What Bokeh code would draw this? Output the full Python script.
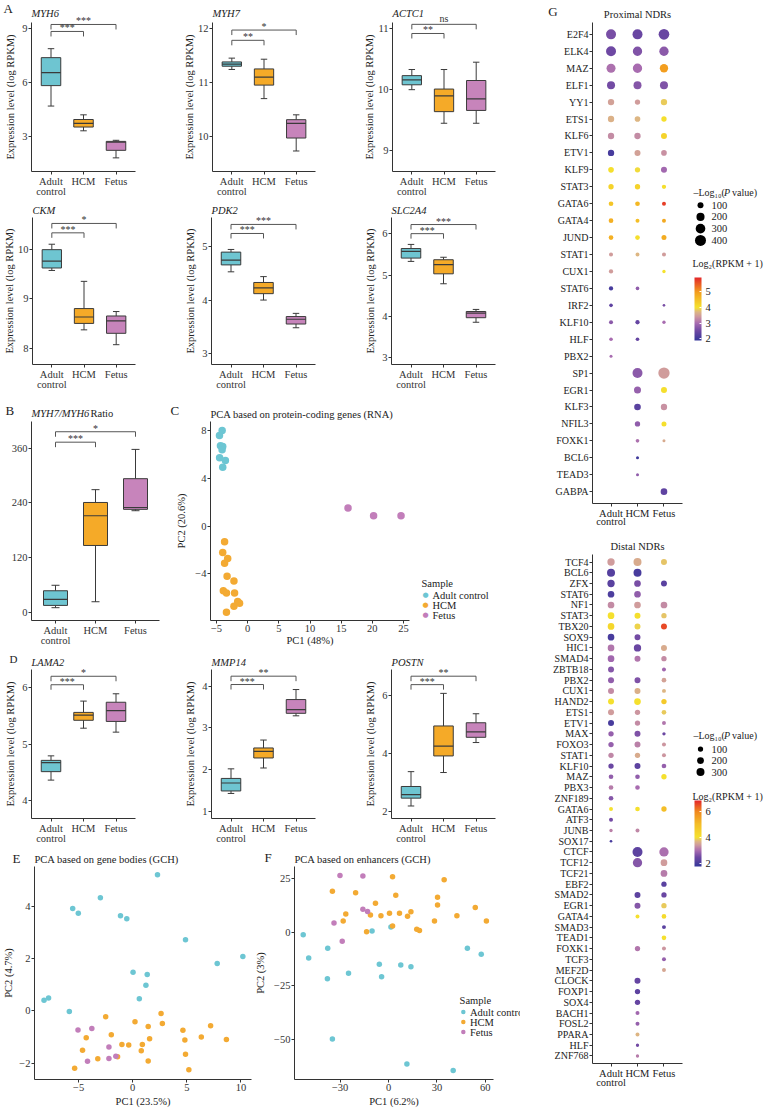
import numpy as np
from bokeh.plotting import figure
from bokeh.models import (Range1d, FixedTicker, ColumnDataSource, FactorRange,
                          LinearColorMapper, ColorBar)
from bokeh.layouts import row, column
from bokeh.embed import file_html
from bokeh.resources import INLINE
from bokeh.core.properties import value

FONT = "Liberation Serif"
GROUPS = ["Adult", "HCM", "Fetus"]
GROUP_SUB = "control"
GROUP_COLORS = ["#6EC5D1", "#F5AA28", "#C784BB"]
PT_COLORS = ["#6DC6D3", "#F3AA33", "#C27EBA"]
LEGEND_NAMES = ["Adult control", "HCM", "Fetus"]

# ---------- box plot data: per group [whisker_low, q1, median, q3, whisker_high]
MYH6 = [[4.69, 5.83, 6.56, 7.39, 7.89], [3.31, 3.52, 3.72, 3.94, 4.20], [1.80, 2.22, 2.67, 2.72, 2.78]]
MYH7 = [[11.25, 11.31, 11.35, 11.39, 11.46], [10.71, 10.96, 11.11, 11.26, 11.44], [9.74, 9.98, 10.25, 10.32, 10.41]]
ACTC1 = [[10.00, 10.08, 10.16, 10.23, 10.33], [9.45, 9.64, 9.90, 10.01, 10.33], [9.45, 9.66, 9.85, 10.15, 10.45]]
CKM = [[9.57, 9.62, 9.76, 9.99, 10.10], [8.37, 8.50, 8.63, 8.80, 9.35], [8.07, 8.30, 8.55, 8.65, 8.74]]
PDK2 = [[4.53, 4.66, 4.75, 4.90, 4.95], [4.00, 4.12, 4.23, 4.33, 4.44], [3.48, 3.55, 3.64, 3.69, 3.75]]
SLC2A4 = [[5.33, 5.41, 5.57, 5.64, 5.74], [4.79, 5.03, 5.25, 5.37, 5.43], [3.86, 3.97, 4.08, 4.12, 4.17]]
RATIO = [[11, 16, 29, 48, 60], [24, 147, 212, 241, 269], [223, 226, 230, 293, 357]]
LAMA2 = [[4.36, 4.51, 4.67, 4.71, 4.79], [5.28, 5.42, 5.51, 5.56, 5.76], [5.21, 5.40, 5.59, 5.74, 5.89]]
MMP14 = [[1.43, 1.49, 1.68, 1.79, 2.02], [2.04, 2.28, 2.44, 2.52, 2.71], [3.29, 3.35, 3.44, 3.68, 3.92]]
POSTN = [[2.20, 2.47, 2.59, 2.87, 3.38], [3.35, 3.92, 4.26, 4.95, 6.07], [4.38, 4.56, 4.75, 5.06, 5.37]]

# significance brackets: (group_a, group_b, level, label)
SIG_MYH6 = [(1, 2, 8.85, "***"), (1, 3, 9.24, "***")]
SIG_MYH7 = [(1, 2, 11.79, "**"), (1, 3, 11.98, "*")]
SIG_ACTC1 = [(1, 2, 10.92, "**"), (1, 3, 11.07, "ns")]
SIG_CKM = [(1, 2, 10.33, "***"), (1, 3, 10.52, "*")]
SIG_PDK2 = [(1, 2, 5.25, "***"), (1, 3, 5.42, "***")]
SIG_SLC2A4 = [(1, 2, 6.00, "***"), (1, 3, 6.22, "***")]
SIG_RATIO = [(1, 2, 372.8, "***"), (1, 3, 395.6, "*")]
SIG_LAMA2 = [(1, 2, 6.05, "***"), (1, 3, 6.20, "*")]
SIG_MMP14 = [(1, 2, 4.04, "***"), (1, 3, 4.24, "**")]
SIG_POSTN = [(1, 2, 6.37, "***"), (1, 3, 6.66, "**")]

# ---------- PCA C (RNA)
C_ADULT_X = [-4.09, -4.52, -4.36, -4.0, -4.1, -4.5, -3.57, -4.0]
C_ADULT_Y = [8.0, 7.58, 6.73, 6.67, 6.4, 5.73, 5.5, 4.93]
C_HCM_X = [-3.7, -4.0, -3.2, -3.7, -3.3, -2.2, -3.9, -3.4, -2.1, -1.6, -2.2, -3.4, -1.3]
C_HCM_Y = [-1.3, -2.2, -2.7, -3.1, -4.2, -4.6, -5.4, -5.6, -5.6, -6.3, -6.7, -7.2, -6.45]
C_FET_X = [16.1, 20.2, 24.6]
C_FET_Y = [1.52, 0.87, 0.87]

# ---------- PCA E (gene bodies, GCH)
E_ADULT_X = [2.29, -2.99, -5.55, -5.03, -1.13, -0.55, 4.88, 10.18, 7.81, 0.03, 1.34, 1.22, 0.61, -7.78, -8.2, -5.86]
E_ADULT_Y = [5.2, 4.32, 3.91, 3.73, 3.64, 3.52, 2.72, 2.08, 1.81, 1.47, 1.39, 0.98, 0.46, 0.49, 0.4, -0.03]
E_HCM_X = [2.62, -2.5, 0.21, 2.74, 1.43, 7.2, 4.64, -1.98, -4.3, 1.56, 4.82, 6.34, 8.66, -1.0, -0.37, 0.89,
           -4.64, 0.79, -1.4, 4.88, -3.23, 1.43, -5.37, 5.19]
E_HCM_Y = [-0.1, -0.23, -0.42, -0.49, -0.6, -0.57, -0.75, -0.92, -1.03, -1.07, -1.12, -1.0, -1.1, -1.29, -1.31, -1.29,
           -1.51, -1.53, -1.76, -1.66, -1.84, -1.92, -2.2, -2.26]
E_FET_X = [-5.06, -3.78, -2.2, -1.56, -2.2, -4.18]
E_FET_Y = [-0.74, -0.68, -1.39, -1.74, -1.83, -1.93]

# ---------- PCA F (enhancers, GCH)
F_ADULT_X = [-52.9, -49.5, -37.7, -37.9, -24.8, -34.8, -10.2, 1.5, -5.7, -4.3, 7.6, 13.9, 11.4, 40.1, 48.9, 57.5]
F_ADULT_Y = [-1.1, -12.0, -7.5, -21.7, -19.2, -50.0, 0.6, 2.5, -15.0, -20.8, -15.3, -16.1, -61.7, -64.7, -7.5, -10.3]
F_HCM_X = [-34.8, 2.5, 34.5, -20.4, 4.5, 30.4, 30.4, -8.1, 53.8, -26.5, 0.6, 6.8, 13.9, -11.2, -4.7, 11.8, 42.4,
           -28.1, 28.5, 60.7, 2.5, -13.6, 17.5, 19.2]
F_HCM_Y = [19.2, 26.0, 24.6, 18.5, 17.3, 16.4, 12.8, 13.6, 11.6, 8.6, 8.9, 8.9, 9.6, 8.1, 7.8, 7.5, 7.8,
           5.3, 5.3, 5.3, 3.0, 0.2, 1.4, 0.9]
F_FET_X = [-30.1, -15.9, -15.9, -13.0, -33.8, -28.7]
F_FET_Y = [26.6, 26.4, 10.8, 9.7, 4.4, -4.2]

# ---------- G proximal NDRs: -log10(P) and log2(RPKM+1) per group (None = absent)
N = None
PROX_TF = ["E2F4", "ELK4", "MAZ", "ELF1", "YY1", "ETS1", "KLF6", "ETV1", "KLF9", "STAT3", "GATA6", "GATA4",
           "JUND", "STAT1", "CUX1", "STAT6", "IRF2", "KLF10", "HLF", "PBX2", "SP1", "EGR1", "KLF3", "NFIL3",
           "FOXK1", "BCL6", "TEAD3", "GABPA"]
PROX_P_ADULT = [324, 324, 256, 196, 114, 114, 114, 114, 87, 75, 54, 54, 54, 36, 44, 44, 28, 36, 28, 16,
                N, N, N, N, N, N, N, N]
PROX_P_HCM = [324, 278, 278, 196, 75, 87, 114, 100, 75, 75, 54, 36, 54, 36, N, 28, N, 44, 28, N,
              324, 144, 128, 75, 28, 16, 16, N]
PROX_P_FETUS = [374, 278, 215, 196, 114, 75, 100, 87, 100, 44, 36, 36, 64, 36, 22, N, 11, 22, N, N,
                427, 100, 114, 64, 16, N, N, 128]
PROX_E_ADULT = [2.6, 2.5, 3.05, 2.55, 3.5, 3.65, 3.3, 2.1, 4.05, 4.2, 4.4, 4.7, 4.7, 3.45, 3.45, 2.1, 2.35, 2.75, 3.0, 3.0,
                N, N, N, N, N, N, N, N]
PROX_E_HCM = [2.45, 2.65, 3.0, 2.7, 3.45, 3.7, 3.3, 3.5, 3.95, 4.2, 4.6, 4.5, 4.05, 3.7, N, 2.8, N, 2.4, 2.4, N,
              2.75, 2.85, 2.3, 2.8, 3.05, 2.0, 2.8, N]
PROX_E_FETUS = [2.45, 2.75, 4.95, 2.65, 3.85, 4.05, 4.2, 3.35, 2.95, 4.05, 5.7, 4.8, 4.75, 3.45, 4.0, N, 2.6, 3.0, N, N,
                3.45, 4.05, 3.35, 4.05, 3.6, N, N, 2.35]

# ---------- G distal NDRs
DIST_TF = ["TCF4", "BCL6", "ZFX", "STAT6", "NF1", "STAT3", "TBX20", "SOX9", "HIC1", "SMAD4", "ZBTB18", "PBX2",
           "CUX1", "HAND2", "ETS1", "ETV1", "MAX", "FOXO3", "STAT1", "KLF10", "MAZ", "PBX3", "ZNF189", "GATA6",
           "ATF3", "JUNB", "SOX17", "CTCF", "TCF12", "TCF21", "EBF2", "SMAD2", "EGR1", "GATA4", "SMAD3", "TEAD1",
           "FOXK1", "TCF3", "MEF2D", "CLOCK", "FOXP1", "SOX4", "BACH1", "FOSL2", "PPARA", "HLF", "ZNF768"]
DIST_P_ADULT = [241, 300, 241, 189, 189, 189, 189, 189, 189, 189, 142, 142, 142, 142, 142, 142, 102, 102, 102, 102,
                69, 69, 69, 42, 42, 22, 8] + [N] * 20
DIST_P_HCM = [300, 300, 189, 189, 189, 142, 142, 142, 241, 142, N, 142, 142, 189, 102, 102, 142, 142, 102, 142,
              69, 69, N, 69, N, 42, N, 518, 439, N, N, 142, 142, 42, N, N, 102, N, N, 142, 102, 102, 42, 42, 42, 22, 22]
DIST_P_FETUS = [142, N, 142, N, 189, 102, 142, N, 142, 102, 42, 69, 42, 102, 69, 42, 22, 42, 42, 69,
                102, N, N, 102, N, N, N, 439, 189, 189, 102, 102, 102, 69, 42, 69, 42, 42, 42] + [N] * 8
DIST_E_ADULT = [3.45, 2.2, 2.25, 2.1, 3.3, 4.05, 4.3, 2.05, 3.1, 2.95, 2.7, 2.8, 3.3, 4.05, 3.45, 2.05, 2.85, 2.85, 3.25, 2.45,
                2.8, 3.15, 2.7, 4.0, 2.55, 3.2, 2.05] + [N] * 20
DIST_E_HCM = [3.6, 2.05, 2.6, 2.8, 3.45, 4.1, 3.9, 2.55, 2.45, 3.1, N, 2.65, 3.65, 4.05, 3.4, 3.3, 2.65, 3.2, 3.6, 2.3,
              2.8, 3.0, N, 4.05, N, 3.25, N, 2.3, 2.7, N, N, 2.3, 2.7, 4.05, N, N, 3.1, N, N, 2.4, 2.3, 2.4, 2.95, 2.85, 3.7, 2.55, 3.15]
DIST_E_FETUS = [3.8, N, 2.25, N, 3.3, 3.8, 6.5, N, 3.6, 3.3, 2.95, 3.5, 3.7, 4.7, 3.85, 3.1, 2.45, 3.4, 3.4, 2.85,
                4.05, N, N, 5.0, N, N, N, 3.05, 3.45, 3.15, 2.25, 2.45, 3.85, 4.2, 2.25, 4.05, 3.4, 2.85, 3.55] + [N] * 8

PROX_SIZE_BREAKS = [100, 200, 300, 400]
DIST_SIZE_BREAKS = [100, 200, 300]

# ---------------------------------------------------------------- helpers
AX = "#333333"


def style(p, ylabel_standoff=3, xlabel_standoff=0):
    p.outline_line_color = None
    p.xgrid.visible = False
    p.ygrid.visible = False
    p.background_fill_color = None
    p.border_fill_color = None
    for ax in list(p.xaxis) + list(p.yaxis):
        ax.axis_line_color = AX
        ax.axis_line_width = 1
        ax.major_tick_line_color = AX
        ax.major_tick_out = 3
        ax.major_tick_in = 0
        ax.minor_tick_line_color = None
        ax.major_label_text_font = FONT
        ax.major_label_text_font_size = "10.5px"
        ax.major_label_text_color = AX
        ax.axis_label_text_font = FONT
        ax.axis_label_text_font_size = "10.5px"
        ax.axis_label_text_font_style = "normal"
        ax.axis_label_text_color = "#222222"
        ax.major_label_standoff = 1
    for ax in p.yaxis:
        ax.axis_label_standoff = ylabel_standoff
    for ax in p.xaxis:
        ax.axis_label_standoff = xlabel_standoff


def set_title(p, text, style_="italic", align="left", standoff=4):
    p.title.text = text
    p.title.text_font = FONT
    p.title.text_font_size = "10.5px"
    p.title.text_font_style = style_
    p.title.text_color = "#222222"
    p.title.align = align
    p.title.standoff = standoff
    p.title.offset = 0


def otext(p, x, y, text, xo=0, yo=0, size="10.5px", style_="normal", align="left", baseline="middle",
          color="#222222", font=FONT):
    """text glyph drawn on the overlay level (not clipped to the frame)"""
    p.text(x=[x], y=[y], text=[text], x_offset=xo, y_offset=yo, text_font=value(font), text_font_size=size,
           text_font_style=style_, text_align=align, text_baseline=baseline, text_color=color, level="overlay")


def box_fig(stats, sig, yr, ticks, title, width, height, top, bottom, title_standoff, letter=None,
            letter_pos=(-28, -14), letter_size="13px", ylabel="Expression level (log RPKM)", left=31,
            frame_w=104, title_parts=None):
    right = width - left - frame_w
    p = figure(width=width, height=height, x_range=Range1d(0.4, 3.6), y_range=Range1d(*yr),
               output_backend="svg", toolbar_location=None, min_border_left=left, min_border_right=right,
               min_border_top=top, min_border_bottom=bottom)
    two_digit = max(len(str(t)) for t in ticks) > 1
    style(p, ylabel_standoff=(0 if two_digit else 3))
    p.xaxis.ticker = FixedTicker(ticks=[1, 2, 3])
    p.xaxis.major_label_overrides = {1: GROUPS[0], 2: GROUPS[1], 3: GROUPS[2]}
    p.yaxis.ticker = FixedTicker(ticks=ticks)
    p.yaxis.axis_label = ylabel
    xs = [1, 2, 3]
    lo = [s[0] for s in stats]
    q1 = [s[1] for s in stats]
    md = [s[2] for s in stats]
    q3 = [s[3] for s in stats]
    hi = [s[4] for s in stats]
    frame_h = height - top - bottom
    lc = "#3a3a3a"
    p.segment(x0=xs, x1=xs, y0=q3, y1=hi, line_color=lc, line_width=1)
    p.segment(x0=xs, x1=xs, y0=lo, y1=q1, line_color=lc, line_width=1)
    cap = 0.1
    p.segment(x0=[x - cap for x in xs], x1=[x + cap for x in xs], y0=hi, y1=hi, line_color=lc, line_width=1)
    p.segment(x0=[x - cap for x in xs], x1=[x + cap for x in xs], y0=lo, y1=lo, line_color=lc, line_width=1)
    p.vbar(x=xs, width=0.6, bottom=q1, top=q3, fill_color=GROUP_COLORS, line_color=lc, line_width=1)
    p.segment(x0=[x - 0.3 for x in xs], x1=[x + 0.3 for x in xs], y0=md, y1=md, line_color=lc, line_width=1.2)
    drop = 5.0 * (yr[1] - yr[0]) / frame_h
    for a, b, lev, lab in sig:
        p.segment(x0=[a, a, b], x1=[b, a, b], y0=[lev, lev, lev], y1=[lev, lev - drop, lev - drop],
                  line_color="#555555", line_width=1)
        otext(p, (a + b) / 2, lev, lab, yo=(0 if lab == "ns" else 2), size="10px", align="center",
              baseline="bottom", color="#333333")
    # second line of the first category label
    otext(p, 1, yr[0], GROUP_SUB, yo=20, align="center", color=AX)
    if title_parts is None:
        set_title(p, title, standoff=title_standoff)
    else:
        for t, st, xo in title_parts:
            otext(p, 0.4, yr[1], t, xo=xo, yo=-8, style_=st)
    if letter:
        otext(p, 0.4, yr[1], letter, xo=letter_pos[0], yo=letter_pos[1], size=letter_size)
    return p


def pca_fig(groups_xy, xr, yr, xticks, yticks, width, height, top, bottom, left, frame_w, title, title_standoff,
            letter, letter_pos, xlabel, ylabel, ylab_standoff, xlab_standoff, size, legend_px, dot_text):
    right = width - left - frame_w
    p = figure(width=width, height=height, x_range=Range1d(*xr), y_range=Range1d(*yr),
               output_backend="svg", toolbar_location=None, min_border_left=left, min_border_right=right,
               min_border_top=top, min_border_bottom=bottom)
    style(p, ylabel_standoff=ylab_standoff, xlabel_standoff=xlab_standoff)
    set_title(p, title, style_="normal", standoff=title_standoff)
    p.xaxis.ticker = FixedTicker(ticks=xticks)
    p.yaxis.ticker = FixedTicker(ticks=yticks)
    p.xaxis.axis_label = xlabel
    p.yaxis.axis_label = ylabel
    for (gx, gy), col in zip(groups_xy, PT_COLORS):
        p.scatter(x=gx, y=gy, size=size, fill_color=col, line_color=None)
    frame_h = height - top - bottom
    sx = (xr[1] - xr[0]) / frame_w
    sy = (yr[1] - yr[0]) / frame_h
    if legend_px is not None:
        lx, ly = legend_px  # legend title position, px from frame bottom-left
        otext(p, xr[0] + lx * sx, yr[0] + ly * sy, "Sample")
        for i, (col, name) in enumerate(zip(PT_COLORS, LEGEND_NAMES)):
            yy = yr[0] + (ly - 11.5 - 10 * i) * sy
            if dot_text:
                otext(p, xr[0] + (lx + 4) * sx, yy, "\u25cf", size="7px", align="center", color=col,
                      font="DejaVu Sans")
            else:
                p.scatter(x=[xr[0] + (lx + 4) * sx], y=[yy], size=4.5, fill_color=col, line_color=None)
            otext(p, xr[0] + (lx + 11) * sx, yy, name)
    otext(p, xr[0], yr[1], letter, xo=letter_pos[0], yo=letter_pos[1], size="13px")
    return p


ANCHORS_PROX = [(1.9, "#35369A"), (2.5, "#6E48A3"), (3.0, "#A86CB0"), (3.4, "#CD97A0"), (3.7, "#DDB584"),
                (4.0, "#F5E22E"), (5.0, "#F39B1E"), (5.9, "#E3262A")]
ANCHORS_DIST = [(1.8, "#35369A"), (2.5, "#6E48A3"), (3.0, "#A86CB0"), (3.4, "#CD97A0"), (3.7, "#DDB584"),
                (4.0, "#F5E22E"), (5.0, "#F4BE28"), (6.0, "#F0861E"), (6.8, "#E3262A")]


def palette(anchors, n=256):
    vs = [a[0] for a in anchors]
    rgb = [tuple(int(a[1][i:i + 2], 16) for i in (1, 3, 5)) for a in anchors]
    out = []
    for v in np.linspace(vs[0], vs[-1], n):
        c = [int(round(np.interp(v, vs, [r[k] for r in rgb]))) for k in range(3)]
        out.append("#%02x%02x%02x" % tuple(c))
    return out


def dot_fig(tfs, ps, es, mapper, size_fn, width, height, top, bottom, left, title, title_standoff, letter):
    yr = FactorRange(factors=list(reversed(tfs)), range_padding=0.2, range_padding_units="absolute")
    xr = FactorRange(factors=GROUPS, range_padding=0.2, range_padding_units="absolute")
    frame_w = 90
    p = figure(width=width, height=height, x_range=xr, y_range=yr, output_backend="svg",
               toolbar_location=None, min_border_left=left, min_border_right=width - left - frame_w,
               min_border_top=top, min_border_bottom=bottom)
    style(p)
    set_title(p, title, style_="normal", align="center", standoff=title_standoff)
    p.yaxis.major_label_text_font_size = "10px"
    p.yaxis.major_label_text_color = "#222222"
    p.xaxis.major_label_text_color = "#222222"
    gx, gy, sz, ev = [], [], [], []
    for g, pl, el in zip(GROUPS, ps, es):
        for tf, pv, e in zip(tfs, pl, el):
            if pv is None:
                continue
            gx.append(g)
            gy.append(tf)
            sz.append(size_fn(pv))
            ev.append(e)
    src = ColumnDataSource(dict(x=gx, y=gy, s=sz, e=ev))
    p.scatter(x="x", y="y", size="s", source=src, fill_color={"field": "e", "transform": mapper},
              line_color=None)
    p.text(x=[GROUPS[0]], y=[-0.1], text=[GROUP_SUB], y_offset=20, text_font=value(FONT),
           text_font_size="10.5px", text_align="center", text_baseline="middle", text_color="#222222",
           level="overlay")
    if letter:
        otext(p, -0.1, len(tfs) + 0.1, letter, xo=-47, yo=-13, size="13px")
    return p


def legend_fig(width, height, title_y, breaks, ys, size_fn, cb_title_y, cb_y, cb_h, mapper, cb_ticks):
    lf = figure(width=width, height=height, x_range=Range1d(0, width), y_range=Range1d(0, height),
                output_backend="svg", toolbar_location=None, min_border=0,
                x_axis_location=None, y_axis_location=None)
    lf.outline_line_color = None
    lf.xgrid.visible = False
    lf.ygrid.visible = False
    lf.background_fill_color = None
    lf.border_fill_color = None
    otext(lf, 7, title_y, "\u2013Log\u2081\u2080(", size="10px")
    otext(lf, 37.5, title_y, "P", style_="italic", size="10px")
    otext(lf, 45.5, title_y, "value)", size="10px")
    lf.scatter(x=[14] * len(breaks), y=ys, size=[size_fn(b) for b in breaks], fill_color="black", line_color=None)
    lf.text(x=[25] * len(breaks), y=ys, text=[str(b) for b in breaks], text_font=value(FONT),
            text_font_size="10.5px", text_baseline="middle", text_color="#222222")
    otext(lf, 6, cb_title_y, "Log\u2082(RPKM + 1)", size="10px")
    cb = ColorBar(color_mapper=mapper, location=(8, cb_y), width=7, height=cb_h,
                  ticker=FixedTicker(ticks=cb_ticks), padding=0, margin=0, label_standoff=4,
                  major_label_text_font=FONT, major_label_text_font_size="10.5px",
                  major_label_text_color="#222222", major_tick_line_color="white", major_tick_in=2,
                  bar_line_color=None, border_line_color=None, background_fill_color=None)
    lf.add_layout(cb, "center")
    return lf


# ---------------------------------------------------------------- row A1 (h 197)
p_myh6 = box_fig(MYH6, SIG_MYH6, (1.04, 9.35), [3, 6, 9], "MYH6", 180, 197, 22, 26, 6.5, letter="A")
p_myh7 = box_fig(MYH7, SIG_MYH7, (9.36, 12.12), [10, 11, 12], "MYH7", 180, 197, 22, 26, 6.5)
p_actc1 = box_fig(ACTC1, SIG_ACTC1, (8.66, 11.1), [9, 10, 11], "ACTC1", 160, 197, 22, 26, 6.5)
# row A2 (h 195)
p_ckm = box_fig(CKM, SIG_CKM, (7.67, 10.64), [8, 9, 10], "CKM", 180, 195, 20, 28, 2.5)
p_pdk2 = box_fig(PDK2, SIG_PDK2, (2.79, 5.55), [3, 4, 5], "PDK2", 180, 195, 20, 28, 2.5)
p_slc = box_fig(SLC2A4, SIG_SLC2A4, (2.84, 6.39), [3, 4, 5, 6], "SLC2A4", 160, 195, 20, 28, 2.5)
# row B / C (h 260)
p_ratio = box_fig(RATIO, SIG_RATIO, (-17, 418), [0, 120, 240, 360], "", 170, 260, 29, 32, 2.5,
                  letter="B", letter_pos=(-26, -11), ylabel=None, frame_w=128,
                  title_parts=[("MYH7/MYH6", "italic", 0), ("Ratio", "normal", 59)])
p_c = pca_fig([(C_ADULT_X, C_ADULT_Y), (C_HCM_X, C_HCM_Y), (C_FET_X, C_FET_Y)], (-5.96, 25.96), (-7.9, 8.76),
              [-5, 0, 5, 10, 15, 20, 25], [-4, 0, 4, 8], 350, 260, 29, 32, 40, 199,
              "PCA based on protein-coding genes (RNA)", 2.5, "C", (-40, -11), "PC1 (48%)", "PC2 (20.6%)", 5, 0,
              7.5, (211, 37), True)
# row D (h 194)
p_lama2 = box_fig(LAMA2, SIG_LAMA2, (3.68, 6.32), [4, 5, 6], "LAMA2", 180, 194, 17, 28, 2.5, letter="D",
                  letter_pos=(-22, -11), letter_size="11px")
p_mmp14 = box_fig(MMP14, SIG_MMP14, (0.83, 4.40), [1, 2, 3, 4], "MMP14", 180, 194, 17, 28, 2.5)
p_postn = box_fig(POSTN, SIG_POSTN, (1.77, 6.89), [2, 4, 6], "POSTN", 160, 194, 17, 28, 2.5)
# row E / F (h 264)
p_e = pca_fig([(E_ADULT_X, E_ADULT_Y), (E_HCM_X, E_HCM_Y), (E_FET_X, E_FET_Y)], (-9.08, 10.98), (-2.63, 5.52),
              [-5, 0, 5, 10], [-2, 0, 2, 4], 252, 264, 20, 31, 31, 220,
              "PCA based on gene bodies (GCH)", 4, "E", (-22, -8), "PC1 (23.5%)", "PC2 (4.7%)", 2, 2,
              5.5, None, False)
p_f = pca_fig([(F_ADULT_X, F_ADULT_Y), (F_HCM_X, F_HCM_Y), (F_FET_X, F_FET_Y)], (-58.3, 65.1), (-68.9, 30.8),
              [-30, 0, 30, 60], [-50, -25, 0, 25], 268, 264, 20, 31, 30, 211,
              "PCA based on enhancers (GCH)", 4, "F", (-30, -9), "PC1 (6.2%)", "PC2 (3%)", 5, 2,
              5.5, (175, 79), False)

left_block = column(row(p_myh6, p_myh7, p_actc1), row(p_ckm, p_pdk2, p_slc), row(p_ratio, p_c),
                    row(p_lama2, p_mmp14, p_postn), row(p_e, p_f))

# ---------------------------------------------------------------- G
map_prox = LinearColorMapper(palette=palette(ANCHORS_PROX), low=1.9, high=5.9)
map_dist = LinearColorMapper(palette=palette(ANCHORS_DIST), low=1.8, high=6.8)


def size_prox(v):
    return 1.0 + 0.5 * np.sqrt(v)


def size_dist(v):
    return 1.6 + 0.369 * np.sqrt(v)


g_prox = dot_fig(PROX_TF, [PROX_P_ADULT, PROX_P_HCM, PROX_P_FETUS], [PROX_E_ADULT, PROX_E_HCM, PROX_E_FETUS],
                 map_prox, size_prox, 166, 532, 22, 29, 72, "Proximal NDRs", 5.5, "G")
g_prox_leg = legend_fig(80, 532, 344, PROX_SIZE_BREAKS, [330, 317, 304, 291], size_prox, 266, 163, 63,
                        map_prox, [2, 3, 4, 5])
g_dist = dot_fig(DIST_TF, [DIST_P_ADULT, DIST_P_HCM, DIST_P_FETUS], [DIST_E_ADULT, DIST_E_HCM, DIST_E_FETUS],
                 map_dist, size_dist, 166, 578, 22, 47, 72, "Distal NDRs", 6, None)
g_dist_leg = legend_fig(80, 578, 372, DIST_SIZE_BREAKS, [357, 344, 331], size_dist, 303, 197, 66,
                        map_dist, [2, 4, 6])

g_block = column(row(g_prox, g_prox_leg), row(g_dist, g_dist_leg))
root = row(left_block, g_block)

open("out.html", "w").write(file_html(root, INLINE))
